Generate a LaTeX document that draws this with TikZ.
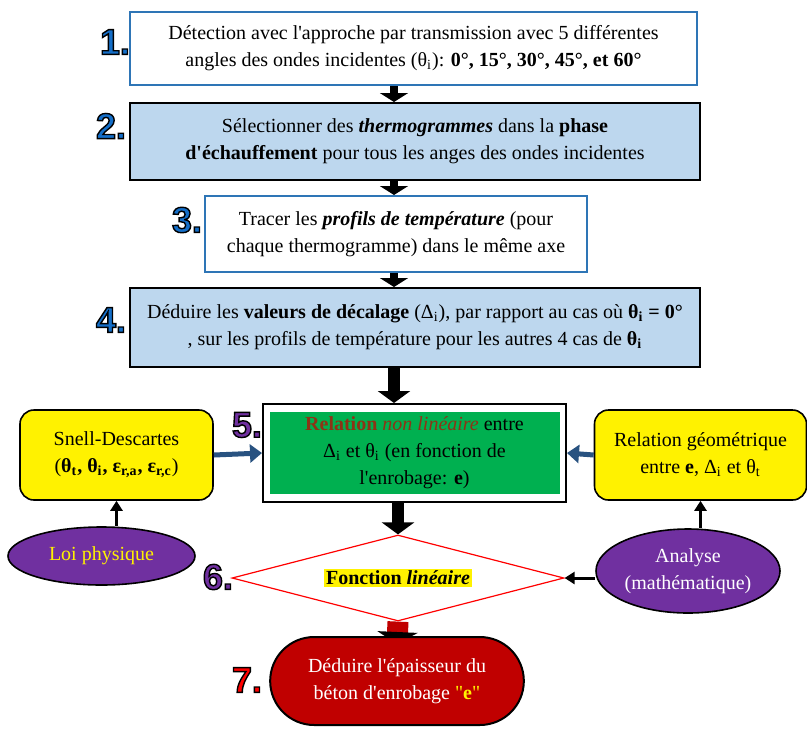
\documentclass[tikz,border=0pt]{standalone}
\usepackage{fontspec}
\setmainfont{Liberation Serif}
\newfontfamily\numfont{Liberation Sans}
\usepackage{tikz}
\usetikzlibrary{arrows.meta,shapes.geometric,shapes.misc,positioning}
\definecolor{myblue}{RGB}{46,117,182}
\definecolor{mylightblue}{RGB}{189,215,238}
\definecolor{mygreen}{RGB}{0,176,80}
\definecolor{mypurple}{RGB}{112,48,160}
\definecolor{mydarkred}{RGB}{192,0,0}
\definecolor{mysteel}{RGB}{40,82,128}
\definecolor{mybrown}{RGB}{140,52,22}
\definecolor{mynumblue}{RGB}{20,110,200}
\newcommand{\sub}[1]{\textsubscript{#1}}
\newcommand{\ap}{\textquotesingle}
\newcommand{\outl}[2]{{\color{#1}\special{pdf:literal direct 2 Tr 0.7 w 0 G}#2\special{pdf:literal direct 0 Tr}}}
\pgfdeclarelayer{back}
\pgfsetlayers{back,main}
\tikzstyle{stage}=[draw=myblue,line width=1pt,fill=white,align=center,inner sep=0pt]
\tikzstyle{stagefill}=[draw=black,line width=1pt,fill=mylightblue,align=center,inner sep=0pt]
\tikzstyle{sidebox}=[draw=black,line width=0.8pt,fill=yellow,rounded corners=7pt,align=center,minimum height=45pt]
\tikzstyle{law}=[draw=black,line width=0.8pt,fill=mypurple,ellipse,align=center,inner sep=0pt]
\tikzstyle{smallarrow}=[line width=4pt,-{Triangle[width=14pt,length=4.5pt]}]
\tikzstyle{bigarrow}=[line width=6pt,-{Triangle[width=16pt,length=6pt]}]
\tikzstyle{sidearrow}=[draw=mysteel,line width=2.5pt,-{Triangle[width=9pt,length=6pt]}]
\tikzstyle{thinarrow}=[line width=1.5pt,-{Triangle[width=6pt,length=5pt]}]
\tikzstyle{num}=[font=\numfont\fontsize{18}{18}\selectfont\bfseries,inner sep=0pt]
\begin{document}
\begin{tikzpicture}[x=0.5pt,y=-0.5pt,font=\fontsize{10}{13.5}\selectfont]
\useasboundingbox (0,0) rectangle (807,728);
\coordinate (spine) at (394,0);
% main chain
\node [stage,minimum width=283.5pt,minimum height=36.5pt] (b1) at (413.5,48.5)
  {Détection avec l\ap approche par transmission avec 5 différentes\\
   angles des ondes incidentes (θ\sub{i}): \textbf{0°, 15°, 30°, 45°, et 60°}};
\node [stagefill,minimum width=285pt,minimum height=38.5pt] (b2) at (415,141.5)
  {Sélectionner des \textbf{\textit{thermogrammes}} dans la \textbf{phase}\\
   \textbf{d\ap échauffement} pour tous les anges des ondes incidentes};
\node [stage,minimum width=191pt,minimum height=38pt] (b3) at (396,234)
  {Tracer les \textbf{\textit{profils de température}} (pour\\
   chaque thermogramme) dans le même axe};
\node [stagefill,minimum width=285pt,minimum height=39.5pt] (b4) at (415,327.5)
  {Déduire les \textbf{valeurs de décalage} (Δ\sub{i}), par rapport au cas où \textbf{θ\sub{i} = 0°}\\
   , sur les profils de température pour les autres 4 cas de \textbf{θ\sub{i}}};
\node [draw=black,line width=1pt,fill=white,minimum width=151.5pt,minimum height=49pt] (relframe) at (414.5,453) {};
\node [fill=mygreen,align=center,inner sep=0pt,minimum width=145pt,minimum height=41pt] (rel) at (414.5,453)
  {{\color{mybrown}\textbf{Relation} \textit{non linéaire}} entre\\
   Δ\sub{i} et θ\sub{i} (en fonction de\\ l\ap enrobage: \textbf{e})};
\node [diamond,draw=red,line width=0.6pt,fill=white,aspect=3.86,inner sep=0pt,
  minimum width=166pt,minimum height=43pt] (fn) at (398,578)
  {\setlength{\fboxsep}{1pt}\colorbox{yellow}{\textbf{Fonction \textit{linéaire}}}};
\node [rounded rectangle,draw=black,line width=1pt,fill=mydarkred,text=white,align=center,
  minimum width=133.5pt,minimum height=44pt] (term) at (397,681)
  {Déduire l\ap épaisseur du\\ béton d\ap enrobage {\color{yellow}\textquotedbl\textbf{e}\textquotedbl}};
% side boxes
\node [sidebox,minimum width=96.5pt] (snell) at (116.5,455)
  {Snell-Descartes\\ (\textbf{θ\sub{t}, θ\sub{i}, ε\sub{r,a}, ε\sub{r,c}})};
\node [sidebox,minimum width=106pt] (geo) at (700.5,455)
  {Relation géométrique\\ entre \textbf{e}, Δ\sub{i} et θ\sub{t}};
\node [law,text=yellow,minimum width=93.5pt,minimum height=29pt] (loi) at (101.5,556) {Loi physique};
\node [law,text=white,minimum width=92pt,minimum height=42pt] (ana) at (688,571) {Analyse\\ (mathématique)};
% step numbers
\node [num] (n1) at (115,42) {\outl{mynumblue}{1.}};
\node [num] (n2) at (111,126) {\outl{mynumblue}{2.}};
\node [num] (n3) at (187,220) {\outl{mynumblue}{3.}};
\node [num] (n4) at (111,320) {\outl{mynumblue}{4.}};
\node [num] (n5) at (247,425) {\outl{mypurple}{5.}};
\node [num] (n6) at (218,577) {\outl{mypurple}{6.}};
\node [num] (n7) at (247,680) {\outl{red}{7.}};
% connectors
\foreach \a/\b in {b1/b2,b2/b3,b3/b4}
  \draw [smallarrow] (\a.south -| spine) -- (\b.north -| spine);
\draw [bigarrow] (b4.south -| spine) -- (relframe.north -| spine);
\draw [bigarrow] (relframe.south -| fn.north) -- (fn.north);
\draw [sidearrow] (snell.east) -- (relframe.west);
\draw [sidearrow] (geo.west) -- (relframe.east);
\draw [thinarrow] (snell.south |- loi.north) -- (snell.south);
\draw [thinarrow] (geo.south |- ana.north) -- (geo.south);
\draw [thinarrow] (fn.east -| ana.west) -- (fn.east);
\begin{pgfonlayer}{back}
\draw [draw=mydarkred,line width=10.5pt,-{Triangle[black,width=20pt,length=6pt]}] (fn.south) -- ([yshift=-4pt]term.north);
\end{pgfonlayer}
\end{tikzpicture}
\end{document}
